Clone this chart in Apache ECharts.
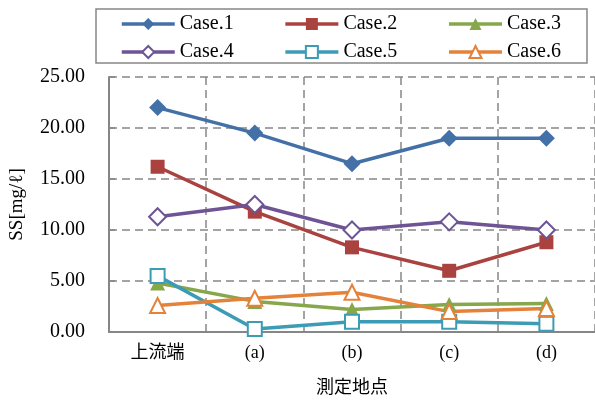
<!DOCTYPE html>
<html>
<head>
<meta charset="utf-8">
<script src="https://cdn.jsdelivr.net/npm/echarts@6/dist/echarts.min.js"></script>
<style>
  html, body { margin: 0; padding: 0; background: #fff; }
  #chart { width: 595px; height: 400px; }
</style>
</head>
<body>
<div id="chart"></div>
<script>
var categories = ['上流端', '(a)', '(b)', '(c)', '(d)'];
var case1 = [22.0, 19.5, 16.5, 19.0, 19.0];
var case2 = [16.2, 11.8, 8.3, 6.0, 8.8];
var case3 = [4.8, 3.0, 2.2, 2.7, 2.8];
var case4 = [11.3, 12.5, 10.0, 10.8, 10.0];
var case5 = [5.5, 0.3, 1.0, 1.0, 0.8];
var case6 = [2.6, 3.3, 3.9, 2.0, 2.3];

var serif = '"Liberation Serif", "Times New Roman", serif';
var cjk = '"Noto Sans CJK JP", "Noto Sans CJK SC", sans-serif';
var gray = '#868686';

var myChart = echarts.init(document.getElementById('chart'));

function makeSeries(name, data, color, symbol, hollow) {
    return {
        name: name,
        type: 'line',
        data: data,
        symbol: symbol,
        symbolSize: symbol === 'triangle' ? 15 : (symbol === 'diamond' ? 17 : 14),
        lineStyle: { color: color, width: 3.5 },
        itemStyle: {
            color: hollow ? '#ffffff' : color,
            borderColor: color,
            borderWidth: hollow ? 2 : 0
        },
        emphasis: { disabled: true }
    };
}

function makeLegend(names, top) {
    return {
        left: 120,
        top: top,
        itemWidth: 53,
        itemHeight: 15,
        itemGap: 50,
        padding: 0,
        lineStyle: { width: 3.5 },
        textStyle: { fontFamily: serif, fontSize: 20, color: '#000' },
        data: names
    };
}

var option = {
    animation: false,
    graphic: [{
        type: 'rect',
        shape: { x: 96, y: 9, width: 491, height: 54 },
        style: { fill: 'none', stroke: gray, lineWidth: 1.5 },
        z: 10
    }],
    legend: [
        makeLegend(['Case.1', 'Case.2', 'Case.3'], 14),
        makeLegend(['Case.4', 'Case.5', 'Case.6'], 42)
    ],
    grid: {
        left: 107,
        right: -3,
        top: 77,
        bottom: 67
    },
    xAxis: {
        type: 'category',
        data: categories,
        boundaryGap: true,
        name: '測定地点',
        nameLocation: 'middle',
        nameGap: 45,
        nameTextStyle: { fontFamily: cjk, fontSize: 18, color: '#000' },
        axisLine: { lineStyle: { color: gray, width: 2 } },
        axisTick: { show: false },
        axisLabel: {
            margin: 12,
            fontSize: 18,
            color: '#000',
            fontFamily: '"Liberation Serif", "Noto Sans CJK JP", serif'
        },
        splitLine: { show: true, lineStyle: { color: gray, type: [8, 5], width: 1.5 } }
    },
    yAxis: {
        type: 'value',
        min: 0,
        max: 25,
        interval: 5,
        name: 'SS[mg/ℓ]',
        nameLocation: 'middle',
        nameGap: 82,
        nameTextStyle: { fontFamily: serif, fontSize: 19, color: '#000' },
        axisLine: { show: true, lineStyle: { color: gray, width: 2 } },
        axisTick: { show: true, inside: true, length: 6, lineStyle: { color: gray, width: 1.5 } },
        axisLabel: {
            margin: 24,
            fontFamily: serif,
            fontSize: 20,
            color: '#000',
            formatter: function (v) { return v.toFixed(2); }
        },
        splitLine: { show: true, lineStyle: { color: gray, type: [8, 5], width: 1.5 } }
    },
    series: [
        makeSeries('Case.1', case1, '#4470A8', 'diamond', false),
        makeSeries('Case.2', case2, '#AA4340', 'rect', false),
        makeSeries('Case.3', case3, '#86A74A', 'triangle', false),
        makeSeries('Case.4', case4, '#6E5495', 'diamond', true),
        makeSeries('Case.5', case5, '#3D9CB5', 'rect', true),
        makeSeries('Case.6', case6, '#E5823A', 'triangle', true)
    ]
};

myChart.setOption(option);
</script>
</body>
</html>
